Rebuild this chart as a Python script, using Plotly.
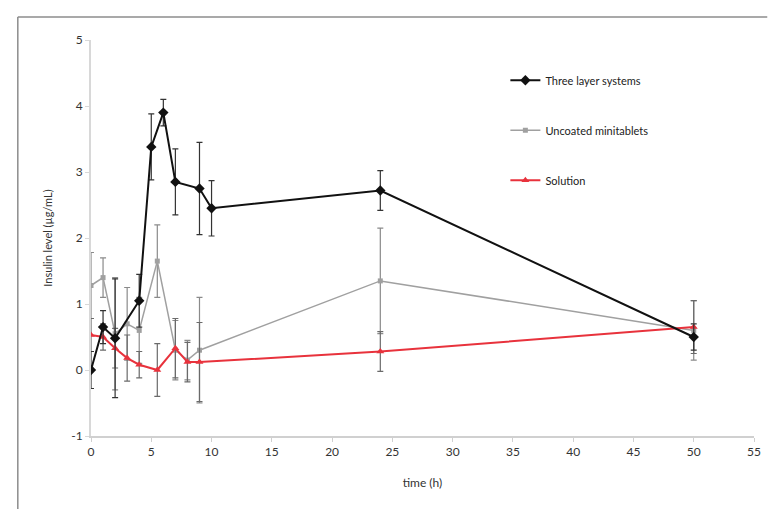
import plotly.graph_objects as go

# ---- data ----
t_three = [0, 1, 2, 4, 5, 6, 7, 9, 10, 24, 50]
three = [0.0, 0.65, 0.48, 1.05, 3.38, 3.9, 2.85, 2.75, 2.45, 2.72, 0.5]
three_err = [0.28, 0.25, 0.9, 0.4, 0.5, 0.2, 0.5, 0.7, 0.42, 0.3, 0.2]

t_unc = [0, 1, 2, 3, 4, 5.5, 7, 8, 9, 24, 50]
unc = [1.28, 1.4, 0.55, 0.7, 0.6, 1.65, 0.3, 0.15, 0.3, 1.35, 0.6]
unc_err = [0.5, 0.3, 0.85, 0.55, 0.5, 0.55, 0.45, 0.3, 0.8, 0.8, 0.45]

t_sol = [0, 1, 2, 3, 4, 5.5, 7, 8, 9, 24, 50]
sol = [0.53, 0.5, 0.33, 0.18, 0.08, 0.0, 0.33, 0.12, 0.12, 0.28, 0.65]
sol_err = [0.25, 0.2, 0.3, 0.35, 0.2, 0.4, 0.45, 0.3, 0.6, 0.3, 0.4]

x_ticks = [0, 5, 10, 15, 20, 25, 30, 35, 40, 45, 50, 55]
y_ticks = [-1, 0, 1, 2, 3, 4, 5]
y_ticklabels = ["-1", "0", "1", "2", "3", "4", "5"]

FONT = "Lato, Liberation Sans, sans-serif"

fig = go.Figure()

fig.add_trace(go.Scatter(
    x=t_unc, y=unc, name="Uncoated minitablets", mode="lines+markers",
    line=dict(color="#a0a0a0", width=1.5),
    marker=dict(symbol="square", size=5, color="#a0a0a0"),
    error_y=dict(type="data", array=unc_err, color="#8a8a8a", thickness=1.2, width=3),
    legendgroup="b", legendrank=2,
))
fig.add_trace(go.Scatter(
    x=t_sol, y=sol, name="Solution", mode="lines+markers",
    line=dict(color="#e8323c", width=2),
    marker=dict(symbol="triangle-up", size=7, color="#e8323c"),
    error_y=dict(type="data", array=sol_err, color="#6a6a6a", thickness=1.2, width=3),
    legendgroup="c", legendrank=3,
))
fig.add_trace(go.Scatter(
    x=t_three, y=three, name="Three layer systems", mode="lines+markers",
    line=dict(color="#111111", width=2),
    marker=dict(symbol="diamond", size=8, color="#111111"),
    error_y=dict(type="data", array=three_err, color="#333333", thickness=1.2, width=3),
    legendgroup="a", legendrank=1,
))

fig.update_layout(
    width=768, height=509,
    margin=dict(l=91, r=7, t=40, b=73),
    paper_bgcolor="white", plot_bgcolor="white",
    font=dict(family=FONT, size=11, color="#333333"),
    showlegend=True,
    legend=dict(x=0.625, y=0.935, xanchor="left", yanchor="top",
                bgcolor="rgba(0,0,0,0)", font=dict(size=11, color="#222222"),
                tracegroupgap=31, itemwidth=30),
    xaxis=dict(range=[0, 55], tickvals=x_ticks, showgrid=False, zeroline=False,
               showline=True, linecolor="#d0d0d0", linewidth=2,
               ticks="outside", ticklen=4, tickcolor="#d0d0d0",
               tickfont=dict(size=12, color="#333333"),
               title=dict(text="time (h)", font=dict(size=12), standoff=20)),
    yaxis=dict(range=[-1, 5], tickvals=y_ticks, ticktext=y_ticklabels,
               showgrid=False, zeroline=False,
               showline=True, linecolor="#d8d8d8", linewidth=2,
               ticks="outside", ticklen=4, tickcolor="#d8d8d8",
               tickfont=dict(size=12, color="#333333"),
               title=dict(text="Insulin level (µg/mL)", font=dict(size=11), standoff=16)),
)

# chart-area border (top and left edges visible)
fig.add_shape(type="line", xref="paper", yref="paper", x0=-0.1104, x1=1.02, y0=1.058, y1=1.058,
              line=dict(color="#8c8c8c", width=1.5))
fig.add_shape(type="line", xref="paper", yref="paper", x0=-0.1104, x1=-0.1104, y0=1.058, y1=-0.19,
              line=dict(color="#8c8c8c", width=1.5))

fig.write_html("out.html")
